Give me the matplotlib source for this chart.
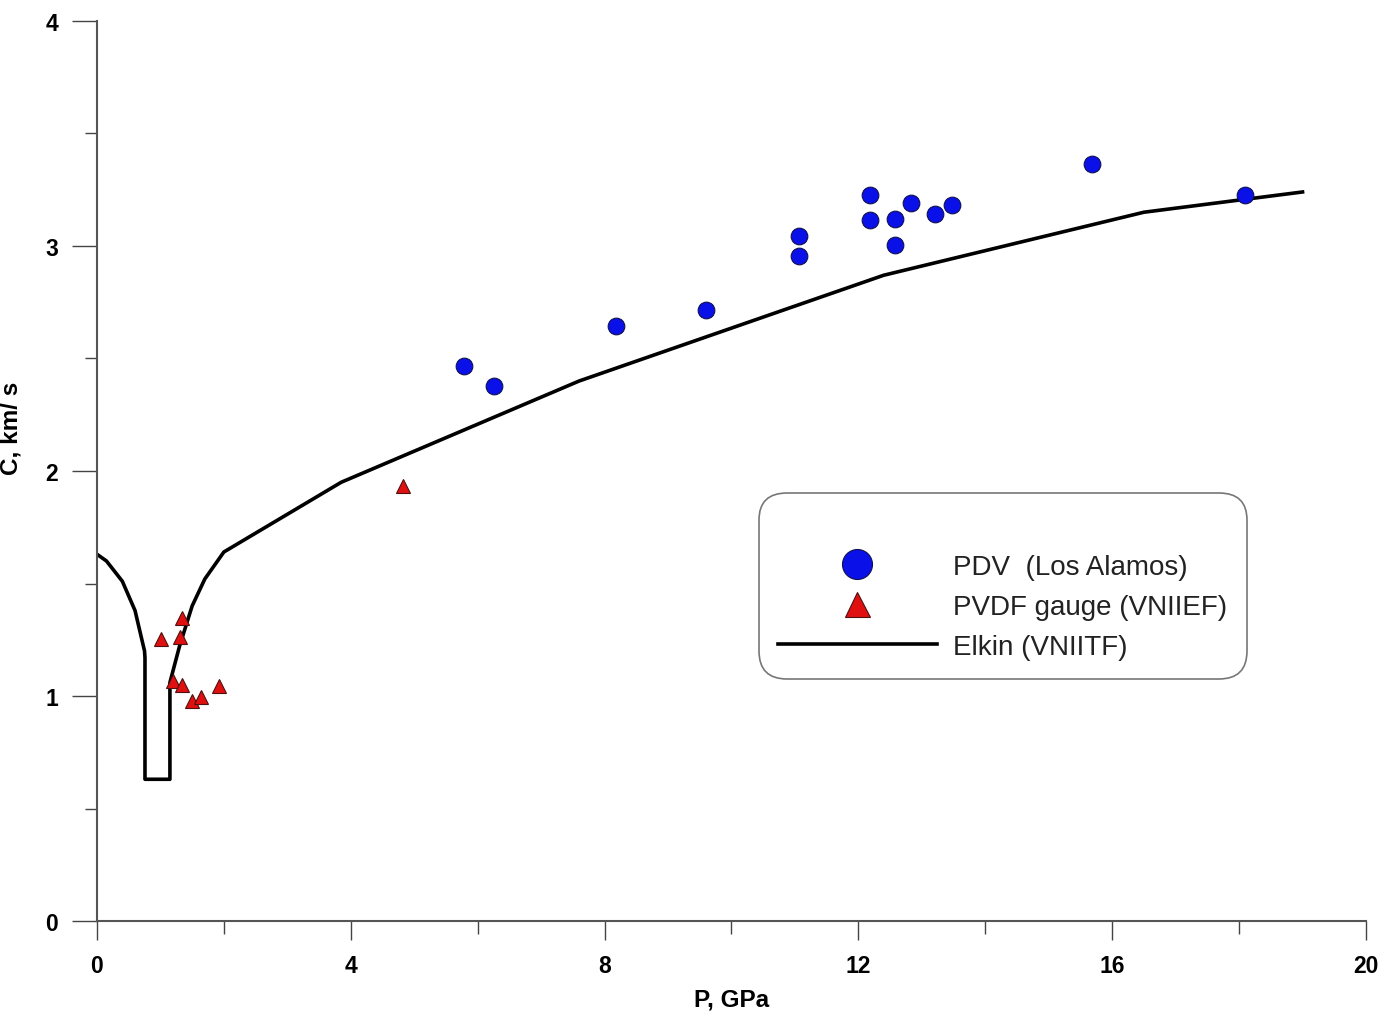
import numpy as np
import matplotlib.pyplot as plt
from matplotlib.ticker import MultipleLocator

plt.rcParams['font.family'] = ['Liberation Sans', 'DejaVu Sans']

# PDV (Los Alamos)
pdv_p = [5.78, 6.26, 8.18, 9.60, 11.06, 11.06, 12.18, 12.18, 12.58, 12.58,
         12.83, 13.21, 13.48, 15.68, 18.09]
pdv_c = [2.467, 2.378, 2.644, 2.716, 3.044, 2.956, 3.227, 3.116, 3.12, 3.004,
         3.191, 3.142, 3.182, 3.364, 3.227]

# PVDF gauge (VNIIEF)
pvdf_p = [1.01, 1.34, 1.31, 1.20, 1.34, 1.50, 1.64, 1.92, 4.82]
pvdf_c = [1.253, 1.347, 1.262, 1.067, 1.049, 0.978, 0.996, 1.044, 1.933]

# Elkin (VNIITF)
elkin_p = [0.0, 0.15, 0.4, 0.6, 0.75, 0.757, 0.757, 1.15, 1.15, 1.3, 1.5, 1.7,
           2.0, 3.85, 7.6, 12.4, 16.5, 19.0]
elkin_c = [1.63, 1.60, 1.51, 1.38, 1.20, 1.17, 0.63, 0.63, 1.06, 1.22, 1.40,
           1.52, 1.64, 1.95, 2.40, 2.87, 3.15, 3.24]

fig = plt.figure(figsize=(13.83, 10.12), dpi=100)
ax = fig.add_axes([0.0701, 0.0889, 0.9176, 0.8894])

ax.plot(elkin_p, elkin_c, color='black', lw=2.6, label='Elkin (VNIITF)', zorder=2)
ax.plot(pdv_p, pdv_c, 'o', color='#0a10e8', mec='#101050', mew=0.8, ms=12,
        label='PDV  (Los Alamos)', zorder=3)
ax.plot(pvdf_p, pvdf_c, '^', color='#e01010', mec='#501010', mew=0.8, ms=10,
        label='PVDF gauge (VNIIEF)', zorder=3)

ax.set_xlim(0, 20)
ax.set_ylim(0, 4)
ax.xaxis.set_major_locator(MultipleLocator(4))
ax.xaxis.set_minor_locator(MultipleLocator(2))
ax.yaxis.set_major_locator(MultipleLocator(1))
ax.yaxis.set_minor_locator(MultipleLocator(0.5))

for s in ['top', 'right']:
    ax.spines[s].set_visible(False)
for s in ['left', 'bottom']:
    ax.spines[s].set_color('#555555')
    ax.spines[s].set_linewidth(1.5)

ax.tick_params(axis='both', labelsize=16.5)
ax.tick_params(axis='y', which='major', length=18, width=1, color='#444444', pad=10)
ax.tick_params(axis='y', which='minor', length=9, width=1, color='#444444')
ax.tick_params(axis='x', which='major', length=14, width=1, color='#444444', pad=10)
ax.tick_params(axis='x', which='minor', length=9, width=1, color='#444444')
for lab in ax.get_xticklabels() + ax.get_yticklabels():
    lab.set_fontweight('bold')

ax.set_xlabel('P, GPa', fontsize=17.5, fontweight='bold')
ax.xaxis.set_label_coords(0.5, -0.074)
ax.set_ylabel('C, km/ s', fontsize=17.5, fontweight='bold')
ax.yaxis.set_label_coords(-0.059, 0.549)

handles, labels = ax.get_legend_handles_labels()
order = [1, 2, 0]
leg = ax.legend([handles[i] for i in order], [labels[i] for i in order],
                loc='upper left', bbox_to_anchor=(0.515, 0.4853),
                fontsize=20, markerscale=1.8, handlelength=5.7,
                handletextpad=0.6, labelspacing=0.5, borderpad=0.5,
                title=' ', title_fontsize=21, fancybox=True, frameon=True)
leg.get_frame().set_edgecolor('#555555')
leg.get_frame().set_linewidth(1.2)
leg.get_frame().set_boxstyle('round,pad=0.2,rounding_size=1.0')
for t in leg.get_texts():
    t.set_color('#222222')

fig.savefig('out.png', dpi=100)
